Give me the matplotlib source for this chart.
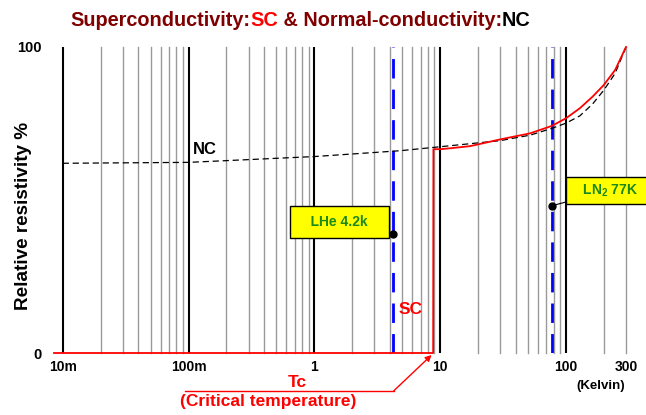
import matplotlib
matplotlib.use("Agg")
import matplotlib.pyplot as plt
from matplotlib import font_manager as fm

names = {f.name for f in fm.fontManager.ttflist}
FONT = ['Liberation Sans Narrow'] if 'Liberation Sans Narrow' in names else ['Liberation Sans']
plt.rcParams['font.family'] = FONT + ['DejaVu Sans']
plt.rcParams['font.weight'] = 'bold'
plt.rcParams['mathtext.fontset'] = 'custom'
plt.rcParams['mathtext.bf'] = FONT[0] + ':bold'

# ---- data ----
nc_T = [0.01, 0.1, 0.3, 1, 4.8, 10, 30, 52, 77, 100, 129, 163, 200, 246, 300]
nc_R = [62.0, 62.3, 63.2, 64.2, 66.1, 67.4, 69.4, 71.2, 73.4, 75.1, 77.5, 81.4, 85.9, 91.4, 100.0]
sc_T = [0.00853, 8.8, 8.84, 10, 12, 17.3, 30, 52, 77, 100, 129, 163, 200, 246, 300]
sc_R = [0, 0, 66.6, 66.6, 66.9, 67.6, 69.8, 71.8, 74.2, 76.7, 80.0, 83.8, 87.6, 92.5, 100.0]
T_LHe = 4.2
T_LN2 = 77
Tc = 8.55
major_ticks = [0.01, 0.1, 1, 10, 100, 300]
major_labels = ['10m', '100m', '1', '10', '100', '300']
y_ticks = [0, 100]
y_labels = ['0', '100']

fig = plt.figure(figsize=(6.46, 4.15), dpi=100)
ax = fig.add_axes([54/646, (415-353)/415, (626-54)/646, 306/415])
ax.set_xscale('log')
ax.set_xlim(0.00853, 300)
ax.set_ylim(0, 100)
for s in ax.spines.values():
    s.set_visible(False)

# vertical grid lines
for dec in [0.01, 0.1, 1, 10, 100]:
    ax.axvline(dec, color='black', lw=1.5, zorder=1)
    for m in range(2, 10):
        v = dec * m
        if v <= 300:
            ax.axvline(v, color='#9a9a9a', lw=1.0, zorder=1, clip_on=False)

ax.axvline(T_LHe, color='#0000ff', lw=2, dashes=(7, 4), zorder=3)
ax.axvline(T_LN2, color='#0000ff', lw=2, dashes=(7, 4), zorder=3)

ax.plot(nc_T, nc_R, color='black', lw=0.9, dashes=(5, 3), zorder=4)
ax.plot(sc_T, sc_R, color='#ff0000', lw=1.3, zorder=5, clip_on=False)

ax.set_xticks(major_ticks)
ax.set_xticklabels(major_labels)
ax.xaxis.set_minor_locator(matplotlib.ticker.NullLocator())
ax.tick_params(axis='x', length=0, pad=5, labelsize=10)
ax.set_yticks(y_ticks)
ax.set_yticklabels(y_labels)
ax.tick_params(axis='y', length=0, pad=9, labelsize=10.5)
for t in ax.get_xticklabels() + ax.get_yticklabels():
    t.set_fontweight('bold')

fig.text(24/646, 1 - 216/415, 'Relative resistivity %', fontsize=13.6, fontweight='bold',
         rotation=90, ha='center', va='center')

ax.text(0.1353, 66.5, 'NC', fontsize=12, fontweight='bold', color='black', ha='center', va='center')
ax.text(5.82, 14.2, 'SC', fontsize=12.5, fontweight='bold', color='#ff0000', ha='center', va='center')
ax.text(190, -10.7, '(Kelvin)', fontsize=9.5, fontweight='bold', color='black', ha='center', va='center', clip_on=False)

# LHe / LN2 call-outs
ax.plot([T_LHe], [38.9], 'o', color='black', ms=5, zorder=6)
ax.plot([T_LN2], [48.1], 'o', color='black', ms=5, zorder=6)
ax.annotate('   LHe 4.2k   ', xy=(T_LHe, 38.9), xytext=(1.585, 42.8), fontsize=10, fontweight='bold',
            color='#1b8a1b', ha='center', va='center', zorder=7,
            bbox=dict(boxstyle='square,pad=0.65', fc='#ffff00', ec='black', lw=1),
            arrowprops=dict(arrowstyle='-', color='black', lw=0.8, shrinkA=0, shrinkB=0))
ax.annotate(r'   LN$_\mathbf{2}$ 77K   ', xy=(T_LN2, 48.1), xytext=(219.6, 53.1), fontsize=10, fontweight='bold',
            color='#1b8a1b', ha='center', va='center', zorder=7, annotation_clip=False,
            bbox=dict(boxstyle='square,pad=0.4', fc='#ffff00', ec='black', lw=1),
            arrowprops=dict(arrowstyle='-', color='black', lw=0.8, shrinkA=0, shrinkB=0))

# Tc annotation
ax.plot([0.0941, 4.27], [-12.4, -12.4], color='#ff0000', lw=1, clip_on=False)
ax.annotate('', xy=(Tc, -0.65), xytext=(4.27, -12.4), annotation_clip=False,
            arrowprops=dict(arrowstyle='-|>', color='#ff0000', lw=1, shrinkA=0, shrinkB=0, mutation_scale=9))
ax.text(0.73, -9.7, 'Tc', fontsize=12.5, fontweight='bold', color='#ff0000', ha='center', va='center', clip_on=False)
ax.text(0.427, -15.9, '(Critical temperature)', fontsize=12.5, fontweight='bold', color='#ff0000',
        ha='center', va='center', clip_on=False)

# title with coloured parts
parts = [('Superconductivity:', '#800000'), ('SC', '#ff0000'), (' & Normal-conductivity:', '#800000'), ('NC', 'black')]
fig.canvas.draw()
r = fig.canvas.get_renderer()
x = 70 / 646
for txt, col in parts:
    t = fig.text(x, 1 - 20/415, txt, fontsize=14.3, fontweight='bold', color=col, ha='left', va='center')
    bb = t.get_window_extent(renderer=r)
    x += bb.width / fig.bbox.width

fig.savefig('out.png', dpi=100)
